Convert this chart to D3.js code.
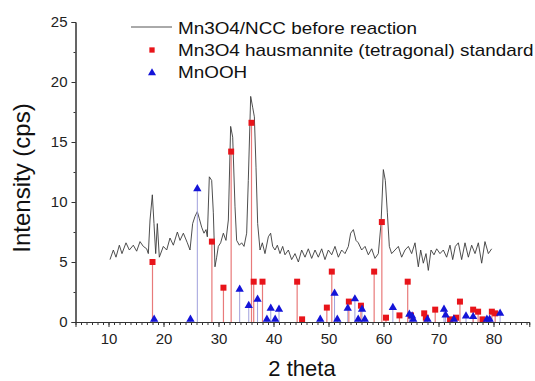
<!DOCTYPE html>
<html>
<head>
<meta charset="utf-8">
<script src="https://cdn.jsdelivr.net/npm/d3@7"></script>
<style>
  html, body { margin: 0; padding: 0; background: #fff; }
  svg { display: block; font-family: "Liberation Sans", Arial, sans-serif; }
</style>
</head>
<body>
<svg id="chart" width="535" height="381"></svg>
<script>
// ---- Data ----
const patternTheta = [10.27,10.88,11.36,11.97,12.45,13.18,13.79,14.51,15.12,15.73,16.33,16.94,17.24,17.55,17.97,18.27,18.58,18.88,19.24,19.97,20.58,21.18,21.79,22.52,23.0,23.61,24.33,24.82,25.3,25.73,26.15,26.52,26.94,27.36,27.73,27.97,28.33,28.76,29.06,29.36,29.67,29.97,30.39,30.88,31.36,31.79,32.21,32.58,33.0,33.3,33.79,34.21,34.64,35.12,35.42,35.85,36.21,36.52,36.82,37.12,37.55,37.97,38.45,39.06,39.48,39.85,40.27,40.7,41.18,41.67,42.09,42.7,43.3,43.91,44.52,45.12,45.73,46.33,46.94,47.55,48.15,48.76,49.36,49.97,50.58,51.18,51.79,52.39,53.0,53.61,54.03,54.52,55.0,55.42,56.03,56.64,57.24,57.85,58.45,59.06,59.55,59.97,60.33,60.7,61.06,61.48,62.09,62.7,63.3,63.91,64.52,65.12,65.73,66.33,66.76,67.24,67.73,68.15,68.64,69.18,69.67,70.27,70.88,71.48,72.09,72.58,73.06,73.61,74.21,74.82,75.43,76.03,76.64,77.24,77.85,78.45,79.06,79.67];
const patternIntensity = [5.2,6.0,5.4,6.4,5.7,6.6,6.0,6.4,5.9,6.7,6.3,6.1,5.7,8.5,10.6,8.2,5.7,8.2,5.4,6.3,6.0,7.0,6.4,7.5,6.8,7.4,6.6,6.0,8.2,8.8,9.2,8.6,7.9,7.4,7.7,7.1,12.1,11.8,9.1,4.6,5.4,6.3,6.6,7.4,6.8,8.5,16.3,15.4,9.6,6.8,6.4,6.6,6.3,7.4,11.8,18.8,17.9,17.1,12.9,8.2,6.0,6.6,5.7,7.1,7.4,6.3,6.0,6.4,5.7,6.3,5.6,6.0,5.2,5.7,5.0,6.0,5.4,6.1,5.3,6.0,5.4,6.1,5.2,6.0,5.6,6.3,5.4,6.0,5.7,6.3,7.4,7.7,6.8,6.6,6.0,6.3,5.6,6.1,5.3,5.7,8.2,12.7,11.8,9.1,6.3,5.7,6.0,6.3,5.4,6.0,6.3,5.7,6.6,4.6,6.0,4.9,5.7,4.3,6.0,5.6,6.1,5.7,6.0,5.4,6.4,5.2,6.3,6.6,5.2,6.6,5.4,6.4,5.7,6.6,4.9,6.7,5.7,6.1];

const hausmanniteTheta = [18.0,28.8,30.9,32.3,36.0,36.4,38.0,44.3,45.2,49.7,50.6,53.7,55.9,58.3,59.7,60.45,62.9,64.4,65.0,67.4,67.7,69.4,72.1,73.2,73.9,76.3,77.2,78.0,79.7,80.3];
const hausmanniteIntensity = [5.0,6.7,2.86,14.2,16.6,3.36,3.36,3.36,0.22,1.2,4.2,1.7,1.36,4.2,8.33,0.36,0.55,3.36,0.55,0.72,0.36,1.03,0.22,0.36,1.7,1.03,0.86,0.22,0.86,0.72];

const mnoohTheta = [18.3,24.9,26.15,33.85,35.5,37.1,38.8,39.5,40.3,41.0,48.5,51.1,51.6,53.5,54.8,55.4,56.1,56.6,61.7,64.7,65.2,65.4,68.0,71.0,71.3,72.8,75.0,76.3,78.8,79.3,81.2];
const mnoohIntensity = [0.22,0.22,11.1,2.72,1.36,1.89,0.22,1.14,0.22,1.06,0.22,2.39,0.22,1.14,1.92,0.22,1.06,0.22,1.2,0.64,0.5,0.22,0.22,1.06,0.58,0.22,0.5,0.44,0.22,0.22,0.72];

const xTickValues = [10,20,30,40,50,60,70,80];
const yTickValues = [0,5,10,15,20,25];
const legendLabels = ["Mn3O4/NCC before reaction","Mn3O4 hausmannite (tetragonal) standard","MnOOH"];
const xTitle = "2 theta";
const yTitle = "Intensity (cps)";

// ---- Chart ----
const svg = d3.select("#chart");
const x = d3.scaleLinear().domain([4, 86.5]).range([75.5, 529.25]);
const y = d3.scaleLinear().domain([0, 25]).range([322, 22]);

const axisColor = "#333";

// pattern line
const line = d3.line().x((d,i)=>x(patternTheta[i])).y(d=>y(d));
svg.append("path").datum(patternIntensity)
  .attr("d", line).attr("fill","none").attr("stroke","#3a3a3a").attr("stroke-width",0.9);

// MnOOH stems
svg.append("g").selectAll("line").data(mnoohTheta).join("line")
  .attr("x1",d=>x(d)).attr("x2",d=>x(d))
  .attr("y1",y(0)).attr("y2",(d,i)=>y(mnoohIntensity[i]))
  .attr("stroke","#a0a0dc").attr("stroke-width",1);
// hausmannite stems
svg.append("g").selectAll("line").data(hausmanniteTheta).join("line")
  .attr("x1",d=>x(d)).attr("x2",d=>x(d))
  .attr("y1",y(0)).attr("y2",(d,i)=>y(hausmanniteIntensity[i]))
  .attr("stroke","#e87a7a").attr("stroke-width",1.2);

// markers
const sq = d3.symbol().type(d3.symbolSquare).size(36);
const tri = d3.symbol().type(d3.symbolTriangle).size(30);
svg.append("g").selectAll("path").data(hausmanniteTheta).join("path")
  .attr("d", sq)
  .attr("transform",(d,i)=>`translate(${x(d)},${y(hausmanniteIntensity[i])})`)
  .attr("fill","#e8141a");
svg.append("g").selectAll("path").data(mnoohTheta).join("path")
  .attr("d", tri)
  .attr("transform",(d,i)=>`translate(${x(d)},${y(mnoohIntensity[i])})`)
  .attr("fill","#1414d8");

// axes
const xAxisMinor = d3.axisBottom(x).tickValues(d3.range(5, 87, 1)).tickSize(3).tickFormat("");
const gxm = svg.append("g").attr("transform",`translate(0,${y(0)})`).call(xAxisMinor);
const xAxis = d3.axisBottom(x).tickValues(xTickValues).tickSize(5).tickPadding(6).tickFormat(d3.format("d"));
const gx = svg.append("g").attr("transform",`translate(0,${y(0)})`).call(xAxis);
[gx, gxm].forEach(g=>{
  g.select(".domain").attr("stroke",axisColor).attr("stroke-width",1);
  g.selectAll(".tick line").attr("stroke",axisColor);
});
gx.selectAll(".tick text").attr("font-size",15).attr("fill","#222").attr("font-family","Liberation Sans, Arial, sans-serif");

const yAxisMinor = d3.axisLeft(y).tickValues(d3.range(0, 25.1, 2.5)).tickSize(2).tickFormat("");
const gym = svg.append("g").attr("transform",`translate(${x(4)},0)`).call(yAxisMinor);
const yAxis = d3.axisLeft(y).tickValues(yTickValues).tickSize(4).tickPadding(4).tickFormat(d3.format("d"));
const gy = svg.append("g").attr("transform",`translate(${x(4)},0)`).call(yAxis);
[gy, gym].forEach(g=>{
  g.select(".domain").attr("stroke",axisColor).attr("stroke-width",1);
  g.selectAll(".tick line").attr("stroke",axisColor);
});
gy.selectAll(".tick text").attr("font-size",15).attr("fill","#222").attr("font-family","Liberation Sans, Arial, sans-serif");

// titles
svg.append("text").attr("x",302).attr("y",376).attr("text-anchor","middle")
  .attr("font-size",22).attr("fill","#111").text(xTitle);
svg.append("text").attr("transform","translate(30,178) rotate(-90)").attr("text-anchor","middle")
  .attr("font-size",24).attr("fill","#111").text(yTitle);

// legend
const lg = svg.append("g");
lg.append("line").attr("x1",131).attr("x2",172).attr("y1",27).attr("y2",27)
  .attr("stroke","#555").attr("stroke-width",1);
lg.append("path").attr("d",d3.symbol().type(d3.symbolSquare).size(28)())
  .attr("transform","translate(152,50)").attr("fill","#e8141a");
lg.append("path").attr("d",d3.symbol().type(d3.symbolTriangle).size(28)())
  .attr("transform","translate(152,73)").attr("fill","#1414d8");
const baselines = [34, 56, 78];
legendLabels.forEach((t,i)=>{
  lg.append("text").attr("transform",`translate(178,${baselines[i]}) scale(1.18,1)`)
    .attr("font-size",16).attr("fill","#111").text(t);
});
</script>
</body>
</html>
